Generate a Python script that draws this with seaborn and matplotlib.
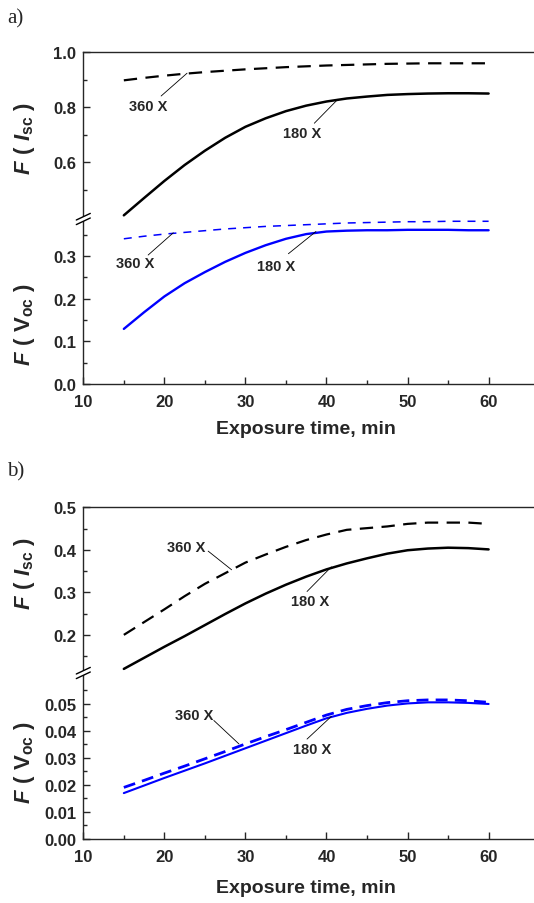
import seaborn as sns
import matplotlib.pyplot as plt
from matplotlib.lines import Line2D
from matplotlib.patches import Polygon

sns.set_style("ticks")
plt.rcParams["font.family"] = ["Liberation Sans", "DejaVu Sans"]
plt.rcParams["font.weight"] = "bold"
plt.rcParams["mathtext.fontset"] = "custom"
plt.rcParams["mathtext.rm"] = "Liberation Sans:bold"
plt.rcParams["mathtext.it"] = "Liberation Sans:italic:bold"
plt.rcParams["mathtext.bf"] = "Liberation Sans:bold"

# exposure time, min
time = [15, 17.5, 20, 22.5, 25, 27.5, 30, 32.5, 35, 37.5, 40,
        42.5, 45, 47.5, 50, 52.5, 55, 57.5, 60]

# panel a)
a_isc_180 = [0.407, 0.470, 0.532, 0.590, 0.642, 0.689, 0.729, 0.760, 0.786, 0.806, 0.821,
             0.832, 0.839, 0.845, 0.848, 0.850, 0.851, 0.851, 0.850]
a_isc_360 = [0.898, 0.907, 0.915, 0.922, 0.928, 0.933, 0.938, 0.942, 0.946, 0.949, 0.952,
             0.954, 0.956, 0.958, 0.959, 0.960, 0.960, 0.960, 0.960]
a_voc_180 = [0.129, 0.168, 0.205, 0.236, 0.262, 0.286, 0.307, 0.325, 0.340, 0.351, 0.357,
             0.359, 0.360, 0.360, 0.361, 0.361, 0.361, 0.360, 0.360]
a_voc_360 = [0.340, 0.346, 0.351, 0.355, 0.359, 0.363, 0.366, 0.369, 0.371, 0.373, 0.375,
             0.377, 0.378, 0.379, 0.380, 0.380, 0.381, 0.381, 0.381]

# panel b)
b_isc_180 = [0.120, 0.146, 0.172, 0.197, 0.223, 0.249, 0.274, 0.297, 0.318, 0.337, 0.354,
             0.368, 0.380, 0.391, 0.399, 0.403, 0.405, 0.404, 0.401]
b_isc_360 = [0.200, 0.230, 0.260, 0.291, 0.320, 0.345, 0.370, 0.389, 0.407, 0.423, 0.436,
             0.447, 0.451, 0.455, 0.461, 0.464, 0.464, 0.464, 0.461]
b_voc_180 = [0.0170, 0.0198, 0.0226, 0.0253, 0.0280, 0.0308, 0.0336, 0.0364, 0.0392, 0.0420,
             0.0447, 0.0467, 0.0482, 0.0494, 0.0502, 0.0506, 0.0506, 0.0504, 0.0500]
b_voc_360 = [0.0191, 0.0217, 0.0244, 0.0270, 0.0297, 0.0324, 0.0352, 0.0379, 0.0405, 0.0432,
             0.0459, 0.0480, 0.0494, 0.0505, 0.0512, 0.0515, 0.0515, 0.0512, 0.0506]

# annotation labels: (text, text position, leader start, leader end)
a_isc_notes = [("360 X", (18.0, 0.805), (19.6, 0.841), (22.8, 0.924)),
               ("180 X", (37.0, 0.708), (38.5, 0.742), (41.4, 0.829))]
a_voc_notes = [("360 X", (16.4, 0.283), (18.0, 0.302), (21.1, 0.354)),
               ("180 X", (33.8, 0.277), (35.3, 0.305), (38.7, 0.357))]
b_isc_notes = [("360 X", (22.7, 0.407), (25.4, 0.397), (28.3, 0.353)),
               ("180 X", (38.0, 0.279), (37.6, 0.302), (40.6, 0.360))]
b_voc_notes = [("360 X", (23.7, 0.0458), (26.1, 0.0439), (29.2, 0.0352)),
               ("180 X", (38.2, 0.0333), (37.6, 0.0370), (40.6, 0.0454))]

W, H = 534, 904
fig = plt.figure(figsize=(W / 100, H / 100), dpi=100)

def box(top, bottom, left=83.3, right=534):
    return [left / W, 1 - bottom / H, (right - left) / W, (bottom - top) / H]

def style_axis(ax, ylim, major, minor, fmt, upper):
    ax.set_xlim(10, 65.6)
    ax.set_ylim(*ylim)
    ax.set_yticks(major)
    ax.set_yticks(minor, minor=True)
    ax.set_yticklabels([fmt.format(v) for v in major])
    ax.set_xticks([10, 20, 30, 40, 50, 60])
    ax.set_xticks([15, 25, 35, 45, 55], minor=True)
    ax.tick_params(which="both", direction="in", width=1.0, labelsize=12)
    ax.tick_params(which="major", length=5, pad=5)
    ax.tick_params(which="minor", length=3)
    ax.tick_params(axis="x", pad=7)
    ax.spines["right"].set_visible(False)
    for s in ax.spines.values():
        s.set_linewidth(1.0)
    if upper:
        ax.spines["bottom"].set_visible(False)
        ax.tick_params(axis="x", which="both", bottom=False, labelbottom=False)
    else:
        ax.spines["top"].set_visible(False)
        ax.set_xlabel("Exposure time, min", fontsize=14, fontweight="bold")
    for lab in ax.get_yticklabels() + ax.get_xticklabels():
        lab.set_fontweight("bold")

def add_notes(ax, notes):
    for text, txy, p0, p1 in notes:
        ax.annotate("", xy=p1, xytext=p0,
                    arrowprops=dict(arrowstyle="-", lw=0.6, color="black",
                                    shrinkA=0, shrinkB=0))
        ax.text(txy[0], txy[1], text, ha="center", va="center",
                fontsize=10.5, fontweight="bold")

def break_marks(y_px, x_px=83.3):
    dx, dy, gap = 7, 3.3, 2.3
    pts = [(x_px - dx, y_px + dy + gap), (x_px + dx, y_px - dy + gap),
           (x_px + dx, y_px - dy - gap), (x_px - dx, y_px + dy - gap)]
    frac = [(px / W, 1 - py / H) for px, py in pts]
    fig.add_artist(Polygon(frac, closed=True, facecolor="white", edgecolor="none",
                           transform=fig.transFigure, zorder=10))
    for off in (gap, -gap):
        fig.add_artist(Line2D([(x_px - dx) / W, (x_px + dx) / W],
                              [1 - (y_px + dy + off) / H, 1 - (y_px - dy + off) / H],
                              color="black", lw=1.0, transform=fig.transFigure, zorder=11))

def ylabel(ax, text, ypos):
    ax.set_ylabel(text, fontsize=16)
    ax.yaxis.set_label_coords(-0.103, ypos)

isc_label = r"$F\ (\ I_{\mathrm{sc}}\ )$"
voc_label = r"$F\ (\ \mathrm{V}_{\mathrm{oc}}\ )$"

# ---------- panel a ----------
ax1 = fig.add_axes(box(53.3, 221))
ax2 = fig.add_axes(box(221, 385))

sns.lineplot(x=time, y=a_isc_360, ax=ax1, color="black", lw=1.6,
             linestyle=(0, (6, 3.8)), errorbar=None)
sns.lineplot(x=time, y=a_isc_180, ax=ax1, color="black", lw=1.8, errorbar=None)
sns.lineplot(x=time, y=a_voc_360, ax=ax2, color="#0000ff", lw=1.1,
             linestyle=(0, (5.2, 4.6)), errorbar=None)
sns.lineplot(x=time, y=a_voc_180, ax=ax2, color="#0000ff", lw=1.7, errorbar=None)

style_axis(ax1, (0.39, 1.0), [0.6, 0.8, 1.0], [0.5, 0.7, 0.9], "{:.1f}", True)
style_axis(ax2, (0.0, 0.384), [0.0, 0.1, 0.2, 0.3], [0.05, 0.15, 0.25, 0.35], "{:.1f}", False)
add_notes(ax1, a_isc_notes)
add_notes(ax2, a_voc_notes)
ylabel(ax1, isc_label, 0.49)
ylabel(ax2, voc_label, 0.366)
ax2.xaxis.set_label_coords(0.495, -0.22)
break_marks(220)
fig.text(7 / W, 1 - 9 / H, "a)", family="Liberation Serif", fontweight="normal",
         fontsize=15, ha="left", va="top")

# ---------- panel b ----------
ax3 = fig.add_axes(box(508.3, 675))
ax4 = fig.add_axes(box(675, 840))

sns.lineplot(x=time, y=b_isc_360, ax=ax3, color="black", lw=1.6,
             linestyle=(0, (6, 3.8)), errorbar=None)
sns.lineplot(x=time, y=b_isc_180, ax=ax3, color="black", lw=1.8, errorbar=None)
sns.lineplot(x=time, y=b_voc_360, ax=ax4, color="#0000ff", lw=2.0,
             linestyle=(0, (4.3, 2.6)), errorbar=None)
sns.lineplot(x=time, y=b_voc_180, ax=ax4, color="#0000ff", lw=1.5, errorbar=None)

style_axis(ax3, (0.108, 0.5), [0.2, 0.3, 0.4, 0.5], [0.15, 0.25, 0.35, 0.45], "{:.1f}", True)
style_axis(ax4, (0.0, 0.0611), [0.0, 0.01, 0.02, 0.03, 0.04, 0.05],
           [0.005, 0.015, 0.025, 0.035, 0.045, 0.055], "{:.2f}", False)
add_notes(ax3, b_isc_notes)
add_notes(ax4, b_voc_notes)
ylabel(ax3, isc_label, 0.61)
ylabel(ax4, voc_label, 0.47)
ax4.xaxis.set_label_coords(0.495, -0.24)
break_marks(674)
fig.text(7 / W, 1 - 462 / H, "b)", family="Liberation Serif", fontweight="normal",
         fontsize=15, ha="left", va="top")

fig.savefig("out.png", dpi=100)
